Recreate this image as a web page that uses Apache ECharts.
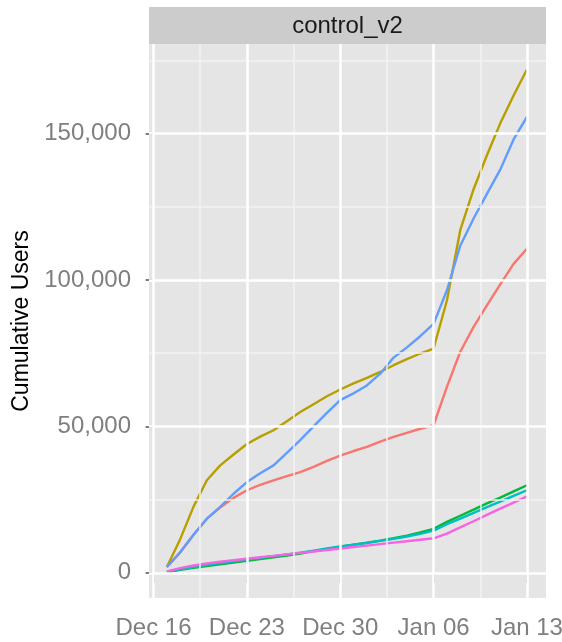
<!DOCTYPE html>
<html>
<head>
<meta charset="utf-8">
<script src="https://cdn.jsdelivr.net/npm/echarts@6/dist/echarts.min.js"></script>
<style>
  html, body { margin: 0; padding: 0; background: #fff; }
  #main { width: 562px; height: 642px; }
</style>
</head>
<body>
<div id="main"></div>
<script>
// x = days since Dec 16
const days = [1, 2, 3, 4, 5, 6, 7, 8, 9, 10, 11, 12, 13, 14, 15, 16, 17, 18, 19, 20, 21, 22, 23, 24, 25, 26, 27, 28];
const xTickDays = [0, 7, 14, 21, 28];
const xTickLabels = ['Dec 16', 'Dec 23', 'Dec 30', 'Jan 06', 'Jan 13'];
const xMinorDays = [3.5, 10.5, 17.5, 24.5];
const yTicks = [0, 50000, 100000, 150000];
const yTickLabels = ['0', '50,000', '100,000', '150,000'];
const yMinor = [25000, 75000, 125000, 175000];

// cumulative users, in thousands
const redUsers = [2, 7, 13, 18.5, 22.3, 25.6, 28.2, 30, 31.6, 33, 34.4, 36.2, 38.2, 40, 41.6, 43, 44.8, 46.4, 47.8, 49.2, 50.4, 63.5, 75.5, 84, 91.3, 98.5, 105.5, 110.7];
const goldUsers = [2, 11.5, 22.6, 31.6, 36.7, 40.4, 44, 46.5, 48.7, 51.8, 54.9, 57.6, 60.3, 62.6, 64.7, 66.6, 68.6, 70.9, 73, 74.9, 76.6, 93, 117, 131, 142.6, 153.5, 163, 171.9];
const greenUsers = [0.3, 1, 1.7, 2.3, 2.9, 3.5, 4.1, 4.7, 5.3, 5.9, 6.6, 7.4, 8.1, 8.9, 9.6, 10.3, 11, 11.8, 12.7, 13.8, 15, 17.4, 19.5, 21.6, 23.7, 25.7, 27.8, 29.9];
const cyanUsers = [0.3, 1.2, 2, 2.7, 3.3, 3.9, 4.5, 5.1, 5.7, 6.3, 6.9, 7.6, 8.3, 9, 9.6, 10.2, 10.9, 11.6, 12.4, 13.3, 14.4, 16.6, 18.5, 20.5, 22.4, 24.3, 26.3, 28.2];
const blueUsers = [2, 7, 13, 18.5, 22.5, 27, 31, 34, 36.7, 41, 45.3, 50, 54.6, 59, 61.3, 64, 68, 73.5, 77, 80.8, 85, 96.5, 111.7, 121, 129.4, 137.7, 148, 155.7];
const magentaUsers = [0.5, 1.6, 2.5, 3.2, 3.8, 4.3, 4.8, 5.3, 5.8, 6.3, 6.8, 7.3, 7.8, 8.3, 8.8, 9.3, 9.8, 10.3, 10.8, 11.3, 11.8, 13.4, 15.5, 17.6, 19.8, 21.9, 24, 26.1];

const groups = [
  { name: 'red', values: redUsers, color: '#F8766D' },
  { name: 'gold', values: goldUsers, color: '#B79F00' },
  { name: 'green', values: greenUsers, color: '#00BA38' },
  { name: 'cyan', values: cyanUsers, color: '#00BFC4' },
  { name: 'blue', values: blueUsers, color: '#619CFF' },
  { name: 'magenta', values: magentaUsers, color: '#F564E3' }
];

const font = '"Liberation Sans", Arial, Helvetica, sans-serif';
const greyText = '#7F7F7F';

// ggplot-style grid lines, drawn through the axes
const gridLines = [];
yMinor.forEach(v => gridLines.push({ yAxis: v, lineStyle: { color: '#F2F2F2', width: 1.5 } }));
xMinorDays.forEach(v => gridLines.push({ xAxis: v, lineStyle: { color: '#F2F2F2', width: 1.5 } }));
yTicks.forEach(v => gridLines.push({ yAxis: v, lineStyle: { color: '#FFFFFF', width: 2.5 } }));
xTickDays.forEach(v => gridLines.push({ xAxis: v, lineStyle: { color: '#FFFFFF', width: 2.5 } }));

const series = [{
  type: 'line',
  data: [],
  silent: true,
  z: 1,
  markLine: {
    silent: true,
    animation: false,
    symbol: ['none', 'none'],
    label: { show: false },
    emphasis: { disabled: true },
    lineStyle: { type: 'solid' },
    data: gridLines
  }
}];

groups.forEach(g => {
  series.push({
    name: g.name,
    type: 'line',
    z: 3,
    showSymbol: false,
    symbol: 'none',
    data: days.map((d, i) => [d, g.values[i] * 1000]),
    lineStyle: { color: g.color, width: 2.4 },
    itemStyle: { color: g.color },
    emphasis: { disabled: true }
  });
});

let myChart = echarts.init(document.getElementById('main'));
myChart.setOption({
  animation: false,
  backgroundColor: '#FFFFFF',
  grid: {
    left: 149,
    right: 16,
    top: 44,
    bottom: 44,
    show: true,
    backgroundColor: '#E5E5E5',
    borderWidth: 0,
    containLabel: false,
    outerBoundsMode: 'none'
  },
  graphic: [
    {
      type: 'rect',
      left: 149,
      top: 7,
      shape: { width: 397, height: 37 },
      style: { fill: '#CCCCCC' },
      silent: true
    },
    {
      type: 'text',
      x: 347.5,
      y: 26,
      style: {
        text: 'control_v2',
        fill: '#1A1A1A',
        font: '24px ' + font,
        textAlign: 'center',
        textVerticalAlign: 'middle'
      },
      silent: true
    }
  ],
  xAxis: {
    type: 'value',
    min: -0.34,
    max: 29.43,
    axisLine: { show: false },
    splitLine: { show: false },
    axisTick: {
      show: true,
      customValues: xTickDays,
      length: 10,
      lineStyle: { color: greyText, width: 2 }
    },
    axisLabel: {
      customValues: xTickDays,
      formatter: v => xTickLabels[xTickDays.indexOf(v)],
      fontSize: 24,
      fontFamily: font,
      color: greyText,
      margin: 18
    }
  },
  yAxis: {
    type: 'value',
    min: -8600,
    max: 180600,
    name: 'Cumulative Users',
    nameLocation: 'middle',
    nameRotate: 90,
    nameGap: 103,
    nameTextStyle: { fontSize: 23, fontFamily: font, color: '#000000' },
    axisLine: { show: false },
    splitLine: { show: false },
    axisTick: {
      show: true,
      customValues: yTicks,
      length: 8,
      lineStyle: { color: greyText, width: 2 }
    },
    axisLabel: {
      customValues: yTicks,
      formatter: v => yTickLabels[yTicks.indexOf(v)],
      fontSize: 24,
      fontFamily: font,
      color: greyText,
      margin: 18
    }
  },
  series: series
});
</script>
</body>
</html>
